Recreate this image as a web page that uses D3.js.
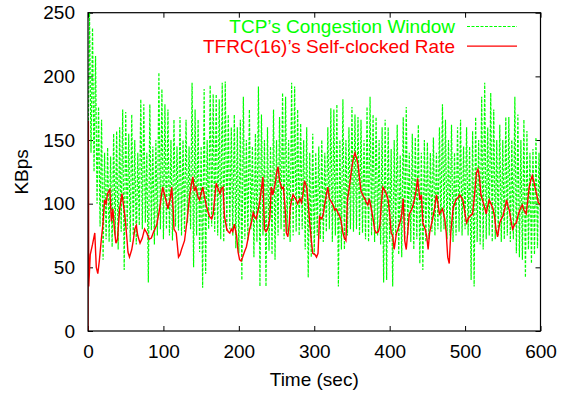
<!DOCTYPE html>
<meta charset="utf-8">
<style>
body {
  margin: 0;
  background: #fff;
}
text {
  font: 19px "Liberation Sans", Arial, sans-serif;
}
</style>
<body>
  <script src="https://cdnjs.cloudflare.com/ajax/libs/d3/7.8.5/d3.min.js"></script>
  <script>

    var xTicks = [0, 100, 200, 300, 400, 500, 600],
        yTicks = [0, 50, 100, 150, 200, 250];

    // TCP congestion window, one reading every 2 sec (t = 0, 2, 4 ... 600)
    var cwndStep = 2;
    var cwnd = [
      130,250, 140,238, 125,216, 100,176,  82,166,  56,140,  72,144,  70,137,  66,155,  75,157,
       64,160,  78,174,  48,172,  80,155,  70,170,  75,150,  68,140,  83,182,  80,178,  85,140,
       38,178,  79,145,  68,150,  75,203,  80,190,  72,178,  80,174,  75,150,  71,166,  82,145,
       79,168,  75,150,  78,166,  85,145,  80,195,  50,174,  75,166,  62,145,  34,190,  45,150,
       80,193,  82,186,  78,186,  75,182,  72,195,  70,196,  78,170,  80,160,  75,170,  65,160,
       61,166,  40,184,  72,150,  71,174,  80,145,  58,155,  70,192,  35,170,  75,150,  35,160,
       63,145,  60,174,  56,150,  75,168,  80,187,  72,184,  78,150,  70,195,  75,192,  78,174,
       75,163,  80,150,  64,160,  42,140,  58,155,  60,140,  75,145,  72,150,  70,140,  78,160,
       80,175,  70,174,  75,178,  35,150,  64,182,  64,150,  75,160,  80,176,  78,170,  80,168,
       75,166,  77,150,  72,176,  70,184,  75,170,  70,168,  75,150,  68,160,  38,166,  40,160,
       70,143,  35,150,  75,162,  60,138,  58,168,  72,176,  75,140,  70,155,  64,152,  72,162,
       53,140,  48,150,  70,148,  72,140,  78,152,  75,140,  80,160,  78,178,  80,166,  72,150,
       75,162,  70,140,  75,160,  78,166,  75,145,  80,160,  75,145,  40,157,  35,168,  70,150,
       68,184,  64,195,  72,160,  75,187,  70,174,  72,150,  75,162,  70,150,  72,168,  75,168,
       70,150,  72,184,  61,170,  58,150,  56,166,  42,157,  64,140,  53,143,  60,152,  65,140,
       90
    ];

    // TFRC(16) self-clocked rate, [time (sec), KBps]
    var rate = [
      [0,0],[0.5,165],[1,35],[3,60],[6,68],[9,77],[11,50],[13,45],[15,55],[18,74],
      [20,85],[22,103],[24,100],[26,108],[29,111],[31,86],[33,96],[35,80],[37,69],[39,72],
      [42,96],[45,108],[47,99],[49,90],[51,77],[53,62],[55,58],[58,64],[60,71],[62,80],
      [64,83],[66,75],[69,69],[72,73],[75,80],[78,77],[81,72],[84,73],[87,78],[91,83],
      [95,96],[97,105],[99,113],[102,106],[106,96],[109,104],[111,113],[113,95],[114,80],[117,77],
      [120,58],[122,60],[124,64],[128,71],[131,85],[135,107],[137,115],[139,121],[141,110],[143,113],
      [146,105],[148,103],[150,108],[152,113],[155,104],[157,98],[161,90],[164,88],[166,92],[168,104],
      [170,116],[173,111],[175,108],[177,112],[179,113],[181,90],[184,80],[186,78],[188,77],[190,80],
      [192,78],[194,84],[197,75],[199,62],[201,56],[203,55],[205,58],[208,63],[210,66],[212,72],
      [214,79],[217,86],[219,93],[221,90],[223,88],[226,96],[228,103],[230,112],[232,121],[233,100],
      [234,80],[236,78],[238,80],[241,88],[243,113],[245,107],[248,115],[250,124],[252,129],[254,118],
      [257,112],[259,113],[261,100],[262,90],[263,77],[265,74],[267,85],[268,96],[270,103],[272,107],
      [274,105],[276,103],[278,100],[281,104],[283,101],[285,107],[287,118],[290,113],[292,100],[294,85],
      [296,72],[298,61],[301,60],[303,58],[305,61],[307,90],[310,88],[312,92],[314,100],[316,107],
      [318,113],[320,104],[323,101],[325,99],[327,95],[329,96],[332,92],[334,90],[336,85],[338,77],
      [340,73],[342,71],[344,103],[347,115],[350,129],[352,136],[354,140],[356,136],[358,131],[360,120],
      [362,110],[365,106],[367,104],[369,101],[371,99],[373,104],[376,95],[378,88],[380,80],[382,77],
      [385,78],[387,83],[389,100],[391,113],[394,110],[396,107],[398,103],[400,92],[402,77],[404,75],
      [406,64],[409,77],[411,80],[414,86],[416,92],[418,104],[420,71],[422,64],[424,78],[426,92],
      [429,95],[431,99],[433,104],[435,110],[437,120],[440,103],[442,107],[444,85],[447,80],[449,75],
      [451,64],[453,77],[455,83],[457,88],[460,98],[462,107],[464,100],[466,92],[468,94],[470,96],
      [473,88],[475,77],[477,58],[479,53],[481,77],[484,96],[486,100],[488,103],[491,105],[493,107],
      [495,105],[497,103],[500,92],[502,85],[504,88],[506,90],[508,91],[510,92],[513,110],[515,124],
      [517,127],[519,121],[521,107],[523,103],[526,97],[528,92],[530,98],[532,103],[535,99],[537,96],
      [539,90],[541,80],[543,74],[546,85],[548,88],[550,90],[553,97],[555,103],[557,98],[559,94],
      [561,86],[563,80],[566,84],[568,85],[570,90],[572,94],[574,97],[576,99],[578,95],[581,92],
      [583,102],[585,113],[587,118],[589,122],[591,118],[593,112],[595,107],[597,101],[600,99]
    ];

    var width = 565,
        height = 394;

    var x = d3.scaleLinear().domain([0, 600]).range([88, 540.5]),
        y = d3.scaleLinear().domain([0, 250]).range([331, 12.7]);

    var svg = d3.select("body").append("svg")
        .attr("width", width)
        .attr("height", height);

    svg.append("clipPath")
        .attr("id", "plot")
      .append("rect")
        .attr("x", x(0))
        .attr("y", y(250))
        .attr("width", x(600) - x(0))
        .attr("height", y(0) - y(250));

    // axes: ticks point inward and are mirrored on top and right
    svg.append("g")
        .attr("transform", "translate(0," + y(0) + ")")
        .call(d3.axisBottom(x).tickValues(xTicks).tickSize(-5).tickPadding(13.7))
        .call(function(g) { g.select(".domain").remove(); });

    svg.append("g")
        .attr("transform", "translate(" + x(0) + ",0)")
        .call(d3.axisLeft(y).tickValues(yTicks).tickSize(-5).tickPadding(13))
        .call(function(g) { g.select(".domain").remove(); });

    svg.append("g")
        .attr("transform", "translate(0," + y(250) + ")")
        .call(d3.axisTop(x).tickValues(xTicks).tickSize(-5).tickFormat(""))
        .call(function(g) { g.select(".domain").remove(); });

    svg.append("g")
        .attr("transform", "translate(" + x(600) + ",0)")
        .call(d3.axisRight(y).tickValues(yTicks).tickSize(-5).tickFormat(""))
        .call(function(g) { g.select(".domain").remove(); });

    svg.selectAll(".tick text")
        .attr("fill", "#000")
        .style("font-size", "19px")
        .style("font-family", "'Liberation Sans', Arial, sans-serif");

    svg.selectAll(".tick line").attr("stroke", "#000");

    var cwndLine = d3.line()
        .x(function(d, i) { return x(i * cwndStep); })
        .y(function(d) { return y(d); });

    var rateLine = d3.line()
        .x(function(d) { return x(d[0]); })
        .y(function(d) { return y(d[1]); });

    var plot = svg.append("g").attr("clip-path", "url(#plot)");

    plot.append("path")
        .datum(cwnd)
        .attr("d", cwndLine)
        .attr("fill", "none")
        .attr("stroke", "#00ff00")
        .attr("stroke-width", 1.2)
        .attr("stroke-dasharray", "3,1.5");

    plot.append("path")
        .datum(rate)
        .attr("d", rateLine)
        .attr("fill", "none")
        .attr("stroke", "#ff0000")
        .attr("stroke-width", 1.4);

    // frame
    svg.append("rect")
        .attr("x", x(0))
        .attr("y", y(250))
        .attr("width", x(600) - x(0))
        .attr("height", y(0) - y(250))
        .attr("fill", "none")
        .attr("stroke", "#000")
        .attr("stroke-width", 1.2);

    // legend
    var legend = [
      {label: "TCP\u2019s Congestion Window", color: "#00ff00", dash: "3,1.5"},
      {label: "TFRC(16)\u2019s Self-clocked Rate", color: "#ff0000", dash: null}
    ];

    var key = svg.selectAll(".key")
        .data(legend)
      .enter().append("g")
        .attr("class", "key")
        .attr("transform", function(d, i) { return "translate(0," + (26.5 + i * 19.6) + ")"; });

    key.append("text")
        .attr("x", 455)
        .attr("dy", "0.36em")
        .attr("text-anchor", "end")
        .attr("fill", function(d) { return d.color; })
        .text(function(d) { return d.label; });

    key.append("line")
        .attr("x1", 467)
        .attr("x2", 517)
        .attr("stroke", function(d) { return d.color; })
        .attr("stroke-width", 1.2)
        .attr("stroke-dasharray", function(d) { return d.dash; });

    // axis titles
    svg.append("text")
        .attr("x", (x(0) + x(600)) / 2)
        .attr("y", 386)
        .attr("text-anchor", "middle")
        .text("Time (sec)");

    svg.append("text")
        .attr("transform", "translate(28," + ((y(0) + y(250)) / 2) + ") rotate(-90)")
        .attr("text-anchor", "middle")
        .text("KBps");
  </script>
</body>
